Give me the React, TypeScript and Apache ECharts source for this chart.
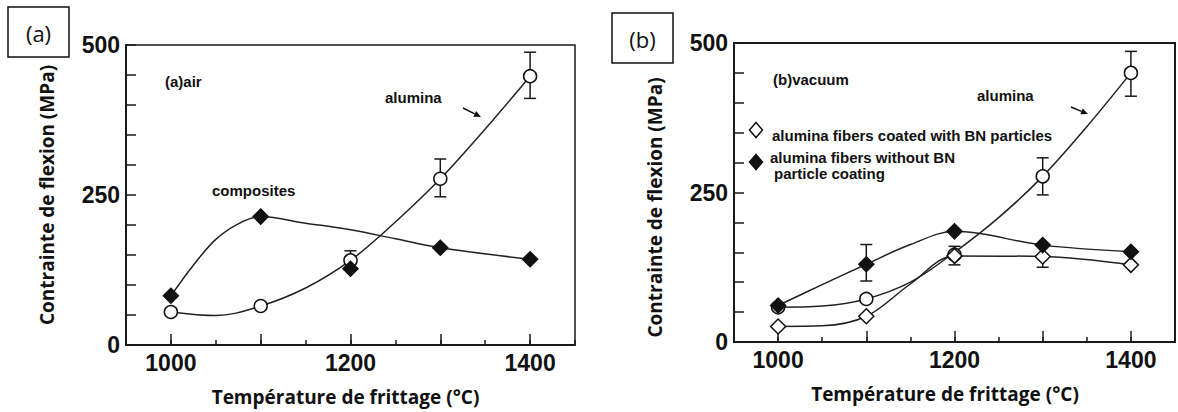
import React, { useEffect, useRef } from "react";
import * as echarts from "echarts";

// ---------- data ----------
const xLabeledTicks = [1000, 1200, 1400];
const xMajorTicks = [1000, 1100, 1200, 1300, 1400];
const yLabeledTicks = [0, 250, 500];

const temps = [1000, 1100, 1200, 1300, 1400];

// Panel (a) air
const aAluminaPts = [55, 65, 141, 277, 448];
const aCompositePts = [82, 214, 127, 162, 143];
const aAluminaCurveX = [1000, 1050, 1100, 1150, 1200, 1250, 1300, 1350, 1400];
const aAluminaCurveY = [55, 49, 65, 95, 141, 205, 277, 360, 448];
const aCompositeCurveX = [1000, 1025, 1050, 1075, 1100, 1150, 1200, 1250, 1300, 1400];
const aCompositeCurveY = [82, 133, 176, 202, 214, 203, 192, 177, 162, 143];
const aErrX = [1200, 1300, 1400];
const aErrLow = [125, 247, 411];
const aErrHigh = [157, 310, 488];

// Panel (b) vacuum
const bAluminaPts = [58, 72, 146, 277, 450];
const bCoatedPts = [26, 43, 144, 143, 129];
const bUncoatedPts = [61, 130, 185, 162, 151];
const bAluminaCurveX = [1000, 1050, 1100, 1150, 1200, 1250, 1300, 1350, 1400];
const bAluminaCurveY = [58, 60, 72, 100, 150, 208, 277, 360, 450];
const bCoatedCurveX = [1000, 1050, 1100, 1150, 1200, 1300, 1400];
const bCoatedCurveY = [26, 27, 43, 97, 144, 143, 129];
const bUncoatedCurveX = [1000, 1050, 1100, 1150, 1200, 1300, 1400];
const bUncoatedCurveY = [61, 96, 130, 163, 185, 162, 151];
const bErrX = [1100, 1200, 1300, 1300, 1400];
const bErrLow = [102, 129, 125, 246, 411];
const bErrHigh = [163, 160, 161, 308, 486];

const xTitle = "Température de frittage (°C)";
const yTitle = "Contrainte de flexion (MPa)";

// ---------- styles ----------
const INK = "#1a1a1a";
const axisLine = { color: INK, width: 2 };
const tickFont = { fontSize: 23, fontWeight: "bold" as const, fontFamily: "Liberation Sans", color: "#111" };
const titleFont = { fontSize: 19, fontWeight: "bold" as const, fontFamily: "Open Sans", color: "#111" };
const annotFont = 'bold 15px "Liberation Sans"';

function pairs(xs: number[], ys: number[]) {
  return xs.map((x, i) => [x, ys[i]]);
}

function makeXAxes(gridIndex: number, titlePad: number) {
  return [
    {
      type: "value",
      gridIndex,
      position: "bottom",
      min: 950,
      max: 1450,
      interval: 50,
      axisLine: { show: true, onZero: false, lineStyle: axisLine },
      axisTick: { show: true, inside: true, length: 5, lineStyle: { color: INK, width: 1.5 } },
      splitLine: { show: false },
      axisLabel: {
        ...tickFont,
        margin: 6,
        formatter: (v: number) => (xLabeledTicks.includes(v) ? String(v) : ""),
      },
      name: xTitle,
      nameLocation: "middle",
      nameGap: 42,
      nameTextStyle: { ...titleFont, padding: [0, titlePad, 0, 0] },
    },
    {
      type: "value",
      gridIndex,
      position: "bottom",
      min: 950,
      max: 1450,
      interval: 50,
      axisLine: { show: false },
      axisTick: { show: true, inside: true, length: 11, customValues: xMajorTicks, lineStyle: { color: INK, width: 1.5 } },
      axisLabel: { show: false },
      splitLine: { show: false },
    },
  ];
}

function makeYAxis(gridIndex: number, titlePad: number) {
  return {
    type: "value",
    gridIndex,
    min: 0,
    max: 500,
    interval: 50,
    axisLine: { show: true, onZero: false, lineStyle: axisLine },
    axisTick: { show: true, inside: true, length: 10, lineStyle: { color: INK, width: 1.5 } },
    splitLine: { show: false },
    axisLabel: {
      ...tickFont,
      margin: 6,
      formatter: (v: number) => (yLabeledTicks.includes(v) ? String(v) : ""),
    },
    name: yTitle,
    nameLocation: "middle",
    nameGap: 70,
    nameRotate: 90,
    nameTextStyle: { ...titleFont, padding: [0, titlePad, 0, 0] },
  };
}

function curve(xi: number, yi: number, xs: number[], ys: number[]) {
  return {
    type: "line",
    xAxisIndex: xi,
    yAxisIndex: yi,
    data: pairs(xs, ys),
    smooth: 0.35,
    symbol: "none",
    showSymbol: false,
    silent: true,
    lineStyle: { color: "#222", width: 1.5 },
    z: 2,
  };
}

function points(xi: number, yi: number, ys: number[], symbol: string, filled: boolean, size: number, z = 3) {
  return {
    type: "scatter",
    xAxisIndex: xi,
    yAxisIndex: yi,
    data: pairs(temps, ys),
    symbol,
    symbolSize: size,
    itemStyle: { color: filled ? "#111" : "#fff", borderColor: "#111", borderWidth: 1.5, opacity: 1 },
    z,
  };
}

function errorBars(xi: number, yi: number, xs: number[], lo: number[], hi: number[]) {
  return {
    type: "custom",
    xAxisIndex: xi,
    yAxisIndex: yi,
    data: xs.map((x, i) => [x, lo[i], hi[i]]),
    encode: { x: 0, y: [1, 2] },
    silent: true,
    z: 1,
    renderItem: (_p: any, api: any) => {
      const x = api.value(0);
      const a = api.coord([x, api.value(1)]);
      const b = api.coord([x, api.value(2)]);
      const hw = 6;
      const style = { stroke: INK, lineWidth: 1.5 };
      return {
        type: "group",
        children: [
          { type: "line", shape: { x1: a[0], y1: a[1], x2: b[0], y2: b[1] }, style },
          { type: "line", shape: { x1: a[0] - hw, y1: a[1], x2: a[0] + hw, y2: a[1] }, style },
          { type: "line", shape: { x1: b[0] - hw, y1: b[1], x2: b[0] + hw, y2: b[1] }, style },
        ],
      };
    },
  };
}

function text(t: string, x: number, y: number, font = annotFont, align = "left") {
  return {
    type: "text",
    x,
    y,
    style: { text: t, font, fill: "#111", align, textAlign: align, verticalAlign: "middle", textVerticalAlign: "middle" },
    z: 10,
  };
}

function arrow(x1: number, y1: number, x2: number, y2: number) {
  const dx = x2 - x1;
  const dy = y2 - y1;
  const len = Math.hypot(dx, dy);
  const ux = dx / len;
  const uy = dy / len;
  const bx = x2 - ux * 7;
  const by = y2 - uy * 7;
  const px = -uy * 3.2;
  const py = ux * 3.2;
  return [
    { type: "line", shape: { x1, y1, x2: bx, y2: by }, style: { stroke: "#111", lineWidth: 1.5 }, z: 10 },
    {
      type: "polygon",
      shape: { points: [[x2, y2], [bx + px, by + py], [bx - px, by - py]] },
      style: { fill: "#111" },
      z: 10,
    },
  ];
}

function diamond(cx: number, cy: number, filled: boolean) {
  const w = 6.5;
  const h = 7.5;
  return {
    type: "polygon",
    shape: { points: [[cx, cy - h], [cx + w, cy], [cx, cy + h], [cx - w, cy]] },
    style: { fill: filled ? "#111" : "#fff", stroke: "#111", lineWidth: 1.5 },
    z: 10,
  };
}

function labelBox(label: string, x: number, y: number, w: number, h: number) {
  return [
    { type: "rect", shape: { x, y, width: w, height: h }, style: { fill: "#fff", stroke: "#111", lineWidth: 1.5 }, z: 10 },
    text(label, x + w / 2, y + h / 2 + 1, '22px "Open Sans"', "center"),
  ];
}

export default function App() {
  const ref = useRef<HTMLDivElement>(null);

  useEffect(() => {
    if (!ref.current) return;
    const chart = echarts.init(ref.current, undefined, { renderer: "svg" });
    const option: any = {
      animation: false,
      backgroundColor: "#fff",
      grid: [
        { left: 126, top: 45, width: 449, height: 300, show: true, borderColor: INK, borderWidth: 1.5, containLabel: false },
        { left: 734, top: 43, width: 448, height: 299, show: true, borderColor: INK, borderWidth: 2, containLabel: false },
      ],
      xAxis: [...makeXAxes(0, 10), ...makeXAxes(1, 19)],
      yAxis: [makeYAxis(0, 0), makeYAxis(1, 30)],
      series: [
        // panel (a)
        errorBars(0, 0, aErrX, aErrLow, aErrHigh),
        curve(0, 0, aAluminaCurveX, aAluminaCurveY),
        curve(0, 0, aCompositeCurveX, aCompositeCurveY),
        points(0, 0, aAluminaPts, "circle", false, 13),
        points(0, 0, aCompositePts, "diamond", true, 15, 4),
        // panel (b)
        errorBars(2, 1, bErrX, bErrLow, bErrHigh),
        curve(2, 1, bAluminaCurveX, bAluminaCurveY),
        curve(2, 1, bCoatedCurveX, bCoatedCurveY),
        curve(2, 1, bUncoatedCurveX, bUncoatedCurveY),
        points(2, 1, bAluminaPts, "circle", false, 13),
        points(2, 1, bCoatedPts, "diamond", false, 15, 4),
        points(2, 1, bUncoatedPts, "diamond", true, 15, 5),
      ],
      graphic: [
        ...labelBox("(a)", 8, 7, 61, 50),
        ...labelBox("(b)", 612, 13, 61, 50),
        text("(a)air", 165, 81),
        text("alumina", 385, 97),
        text("composites", 212, 190),
        ...arrow(463, 108, 481, 117),
        text("(b)vacuum", 773, 79),
        text("alumina", 977, 95),
        ...arrow(1071, 107, 1088, 114),
        diamond(756, 130, false),
        text("alumina fibers coated with BN particles", 772, 135),
        diamond(756, 162, true),
        text("alumina fibers without BN", 770, 157),
        text("particle coating", 774, 173),
      ],
    };
    chart.setOption(option);
    return () => chart.dispose();
  }, []);

  return (
    <div
      ref={ref}
      style={{ position: "fixed", left: 0, top: 0, width: 1178, height: 412, background: "#fff" }}
    />
  );
}
